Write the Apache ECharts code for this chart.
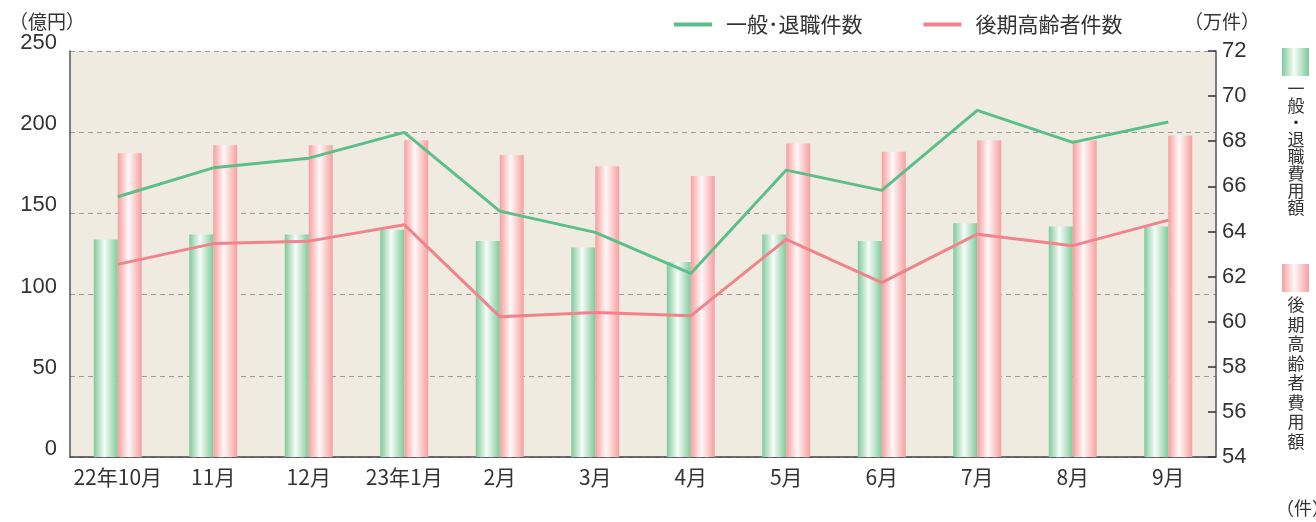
<!DOCTYPE html>
<html>
  <head>
    <meta charset="utf-8" />
    <title>費用額と件数</title>
    <script src="https://cdn.jsdelivr.net/npm/echarts@6/dist/echarts.min.js"></script>
    <style>
      html, body { margin: 0; padding: 0; background: #fff; }
    </style>
  </head>
  <body>
    <div id="main" style="width: 1316px; height: 522px"></div>

    <script type="text/javascript">
      var months = ["22年10月", "11月", "12月", "23年1月", "2月", "3月", "4月", "5月", "6月", "7月", "8月", "9月"];
      // 費用額（億円）
      var ippanCost = [134, 137, 137, 140, 133, 129, 120, 137, 133, 144, 142, 142];
      var kokiCost = [187, 192, 192, 195, 186, 179, 173, 193, 188, 195, 195, 198];
      // 件数（万件）
      var ippanCount = [65.54, 66.82, 67.25, 68.39, 64.9, 63.96, 62.14, 66.72, 65.82, 69.37, 67.95, 68.85];
      var kokiCount = [62.54, 63.46, 63.57, 64.3, 60.22, 60.41, 60.26, 63.65, 61.73, 63.88, 63.37, 64.5];

      var FONT = "'Noto Sans CJK JP', 'Noto Sans', sans-serif";
      var NUM = "'Liberation Sans', 'Noto Sans CJK JP', sans-serif";
      var TXT = "#333";

      function barGrad(edge, mid) {
        return {
          type: "linear", x: 0, y: 0, x2: 1, y2: 0,
          colorStops: [
            { offset: 0, color: edge },
            { offset: 0.45, color: mid },
            { offset: 1, color: edge },
          ],
        };
      }
      var greenBar = barGrad("#7fca9a", "#f7fcf8");
      var pinkBar = barGrad("#f69f9f", "#fff8f8");

      var myChart = echarts.init(document.getElementById("main"));

      var option = {
        textStyle: { fontFamily: FONT },
        animation: false,
        grid: {
          left: 70, right: 100, top: 51, bottom: 65,
          show: true, backgroundColor: "#efebe1", borderWidth: 0,
        },
        legend: {
          left: 674, top: 14, padding: 0,
          icon: "rect", itemWidth: 38, itemHeight: 4, itemGap: 61,
          data: ["一般･退職件数", "後期高齢者件数"],
          textStyle: { color: TXT, fontSize: 21, fontFamily: FONT, padding: [0, 0, 0, 9] },
        },
        xAxis: {
          type: "category",
          data: months,
          axisLine: { lineStyle: { color: "#444", width: 1.5 } },
          axisTick: { inside: true, length: 10, lineStyle: { color: "#555" } },
          axisLabel: { interval: 0, color: TXT, fontSize: 21, margin: 10, fontFamily: FONT },
        },
        yAxis: [
          {
            type: "value", min: 0, max: 250, interval: 50,
            axisLine: { show: true, lineStyle: { color: "#555", width: 1.5 } },
            axisTick: { show: false },
            axisLabel: { color: TXT, fontSize: 22, margin: 13, verticalAlign: "bottom", lineHeight: 16, fontFamily: NUM },
            splitLine: { lineStyle: { color: "#999", type: [5, 4], width: 1.2 } },
          },
          {
            type: "value", min: 54, max: 72, interval: 2, position: "right",
            axisLine: { show: true, lineStyle: { color: "#555", width: 1.5 } },
            axisTick: { show: true, inside: true, length: 8, lineStyle: { color: "#333", width: 1.5 } },
            axisLabel: { color: TXT, fontSize: 22, margin: 6, fontFamily: NUM },
            splitLine: { show: false },
          },
        ],
        series: [
          {
            name: "一般･退職費用額", type: "bar", yAxisIndex: 0,
            data: ippanCost, barWidth: 24, barGap: "0%",
            itemStyle: { color: greenBar },
          },
          {
            name: "後期高齢者費用額", type: "bar", yAxisIndex: 0,
            data: kokiCost, barWidth: 24, barGap: "0%",
            itemStyle: { color: pinkBar },
          },
          {
            name: "一般･退職件数", type: "line", yAxisIndex: 1,
            data: ippanCount, showSymbol: false, symbol: "none", z: 5,
            itemStyle: { color: "#5cbf87" },
            lineStyle: { color: "#5cbf87", width: 3 },
          },
          {
            name: "後期高齢者件数", type: "line", yAxisIndex: 1,
            data: kokiCount, showSymbol: false, symbol: "none", z: 5,
            itemStyle: { color: "#f0838b" },
            lineStyle: { color: "#f0838b", width: 3 },
          },
        ],
        graphic: [
          { type: "text", left: 9, top: 12, style: { text: "（億円）", fill: TXT, font: "19px " + FONT } },
          { type: "text", left: 1184, top: 12, style: { text: "（万件）", fill: TXT, font: "19px " + FONT } },
          { type: "rect", shape: { x: 1282, y: 48, width: 27, height: 28 }, style: { fill: greenBar } },
          {
            type: "text", x: 1296, y: 80,
            style: { text: "一\n般\n・\n退\n職\n費\n用\n額", fill: TXT, font: "17px " + FONT, lineHeight: 17, align: "center" },
          },
          { type: "rect", shape: { x: 1282, y: 264, width: 27, height: 28 }, style: { fill: pinkBar } },
          {
            type: "text", x: 1296, y: 295,
            style: { text: "後\n期\n高\n齢\n者\n費\n用\n額", fill: TXT, font: "17px " + FONT, lineHeight: 19.5, align: "center" },
          },
          { type: "text", left: 1276, top: 499, style: { text: "（件）", fill: TXT, font: "18px " + FONT } },
        ],
      };
      myChart.setOption(option);
    </script>
  </body>
</html>
